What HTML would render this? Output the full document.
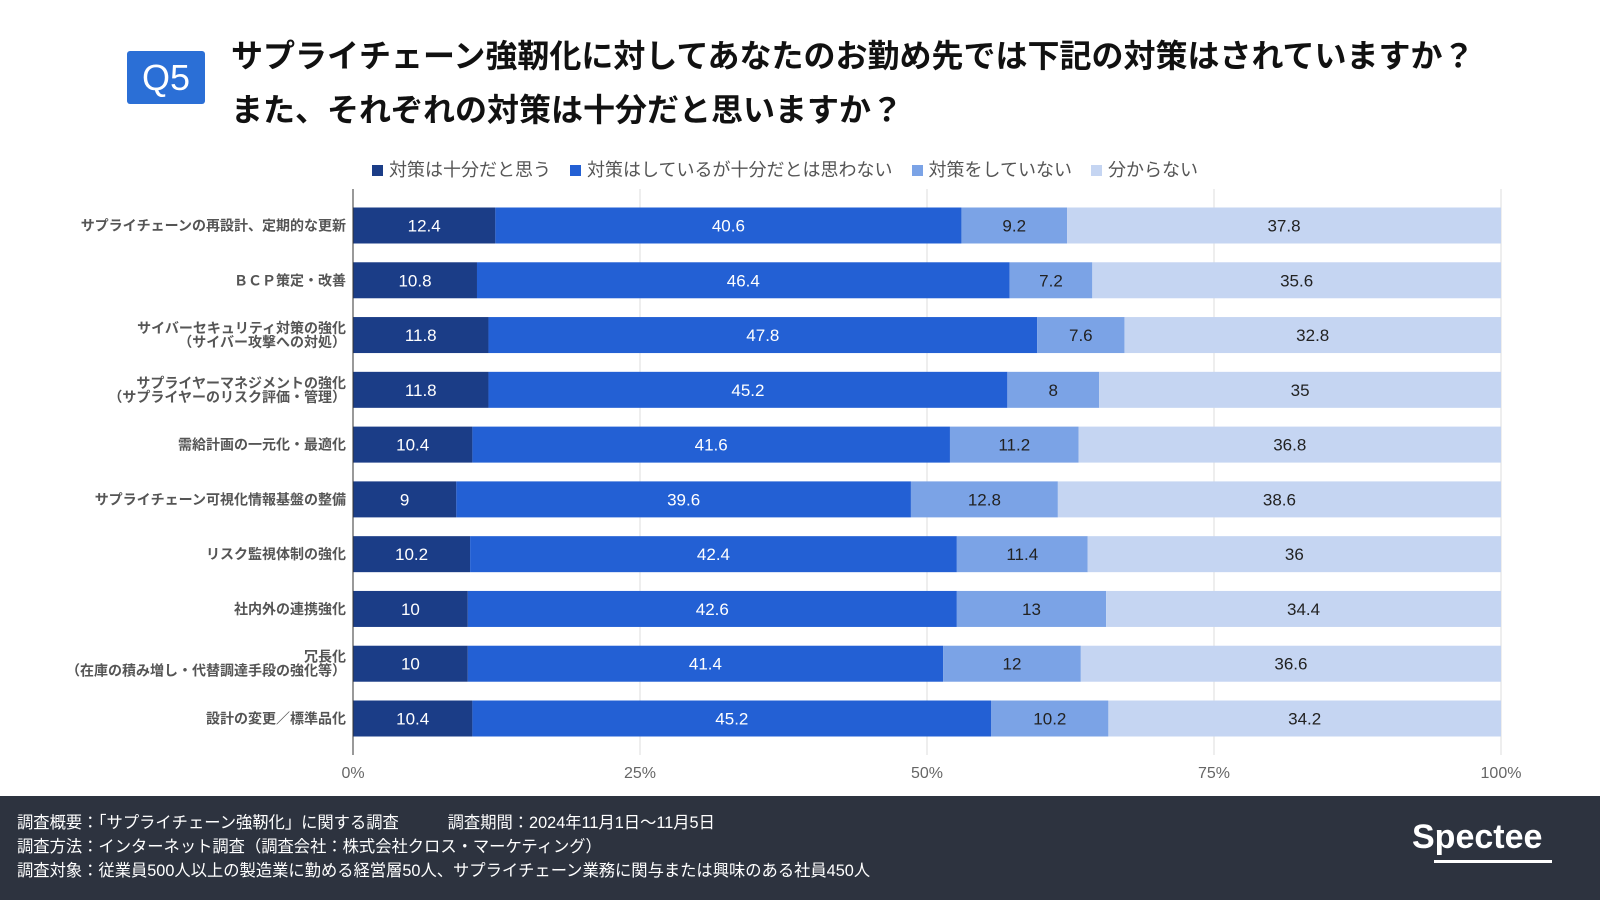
<!DOCTYPE html>
<html><head><meta charset="utf-8">
<style>
body{margin:0;width:1600px;height:900px;background:#fff;position:relative;overflow:hidden;font-family:"Liberation Sans","Noto Sans CJK JP",sans-serif;}
.q5{position:absolute;left:127px;top:51px;width:78px;height:53px;background:#2b6fd6;border-radius:3px;color:#fff;font-size:36px;line-height:53px;text-align:center;}
.title{position:absolute;left:231px;top:29px;font-size:32px;font-weight:bold;color:#111;line-height:54px;white-space:nowrap;}
.legend{position:absolute;left:372px;top:156px;font-size:18px;color:#555;white-space:nowrap;}
.legend span.sw{display:inline-block;width:11px;height:11px;margin:0 6px 0 0;vertical-align:0px;}
.legend .it{margin-right:14px;}
.footer{position:absolute;left:0;top:796px;width:1600px;height:104px;background:#2d333f;}
.ft{position:absolute;left:17px;color:#fff;font-size:16.3px;white-space:nowrap;}
</style></head><body>
<div class="q5">Q5</div>
<div class="title">サプライチェーン強靭化に対してあなたのお勤め先では下記の対策はされていますか？<br>また、それぞれの対策は十分だと思いますか？</div>
<div class="legend">
<span class="it"><span class="sw" style="background:#1b3d87"></span>対策は十分だと思う</span>
<span class="it"><span class="sw" style="background:#2360d4"></span>対策はしているが十分だとは思わない</span>
<span class="it"><span class="sw" style="background:#7ba3e6"></span>対策をしていない</span>
<span class="it"><span class="sw" style="background:#c5d5f2"></span>分からない</span>
</div>
<svg id="chart" width="1600" height="796" style="position:absolute;left:0;top:0"></svg>
<div class="footer">
<div class="ft" style="top:13px">調査概要：「サプライチェーン強靭化」に関する調査　　　調査期間：2024年11月1日〜11月5日</div>
<div class="ft" style="top:37px">調査方法：インターネット調査（調査会社：株式会社クロス・マーケティング）</div>
<div class="ft" style="top:61px">調査対象：従業員500人以上の製造業に勤める経営層50人、サプライチェーン業務に関与または興味のある社員450人</div>
<div style="position:absolute;left:1412px;top:22px;color:#fff;font-size:34px;font-weight:bold;">Spectee<div style="position:absolute;left:22px;top:42px;width:118px;height:3px;background:#fff"></div></div>
</div>
<script>
const categories=[["サプライチェーンの再設計、定期的な更新"],["ＢＣＰ策定・改善"],["サイバーセキュリティ対策の強化","（サイバー攻撃への対処）"],["サプライヤーマネジメントの強化","（サプライヤーのリスク評価・管理）"],["需給計画の一元化・最適化"],["サプライチェーン可視化情報基盤の整備"],["リスク監視体制の強化"],["社内外の連携強化"],["冗長化","（在庫の積み増し・代替調達手段の強化等）"],["設計の変更／標準品化"]];
const sufficient=[12.4,10.8,11.8,11.8,10.4,9,10.2,10,10,10.4];
const insufficient=[40.6,46.4,47.8,45.2,41.6,39.6,42.4,42.6,41.4,45.2];
const notDone=[9.2,7.2,7.6,8,11.2,12.8,11.4,13,12,10.2];
const unknown=[37.8,35.6,32.8,35,36.8,38.6,36,34.4,36.6,34.2];
const ticks=[0,25,50,75,100];
const tickLabels=["0%","25%","50%","75%","100%"];
const NS="http://www.w3.org/2000/svg";
const svg=document.getElementById('chart');
const plotX0=353,plotX1=1501,plotTop=189,plotBot=755,barH=36;
const firstC=225.5,lastC=718.5;
const bandH=(lastC-firstC)/(categories.length-1);
const xs=v=>plotX0+(plotX1-plotX0)*v/100;
const yc=i=>firstC+bandH*i;
function mk(t,a){const e=document.createElementNS(NS,t);for(const k in a)e.setAttribute(k,a[k]);svg.appendChild(e);return e;}
ticks.forEach((t,i)=>{
 const l=mk('line',{x1:xs(t),x2:xs(t),y1:plotTop,y2:plotBot,stroke:i==0?'#333':'#ddd','stroke-width':1});
 
 
 const tx=mk('text',{x:xs(t),y:778,'text-anchor':'middle','font-size':16,fill:'#666'});
 tx.textContent=tickLabels[i];
 
 
});
const series=[sufficient,insufficient,notDone,unknown];
const colors=['#1b3d87','#2360d4','#7ba3e6','#c5d5f2'];
const txtCol=['#fff','#fff','#222','#222'];
const names=['sufficient','insufficient','not-done','unknown'];
categories.forEach((c,i)=>{
 let acc=0;
 series.forEach((s,k)=>{
  const v=s[i];
  const r=mk('rect',{x:xs(acc),y:yc(i)-barH/2,width:xs(acc+v)-xs(acc),height:barH,fill:colors[k]});
  
  
  const t=mk('text',{x:xs(acc+v/2),y:yc(i)+6,'text-anchor':'middle','font-size':17,fill:txtCol[k]});
  t.textContent=String(v);
  
  
  acc+=v;
 });
 const n=c.length;
 c.forEach((line,j)=>{
  const t=mk('text',{x:346,y:yc(i)+5+(j-(n-1)/2)*14,'text-anchor':'end','font-size':14,'font-weight':'bold',fill:'#555'});
  t.textContent=line;
  
  
 });
});
const ax=mk('line',{x1:plotX0,x2:plotX0,y1:plotTop,y2:plotBot,stroke:'#333','stroke-width':1});


</script>
</body></html>
